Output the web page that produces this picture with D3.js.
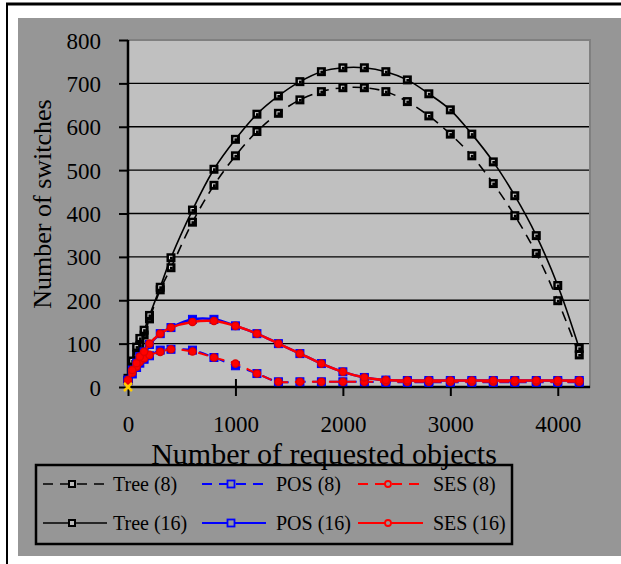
<!DOCTYPE html>
<html><head><meta charset="utf-8">
<script src="https://cdn.jsdelivr.net/npm/d3@7"></script>
<style>body{margin:0;background:#fff}svg{display:block}svg text{font-family:"Liberation Serif","Times New Roman",serif !important;fill:#000}</style>
</head><body>
<svg id="c" width="621" height="564"></svg>
<script>
const xValues = [0, 40, 80, 110, 150, 200, 300, 400, 600, 800, 1000, 1200, 1400, 1600, 1800, 2000, 2200, 2400, 2600, 2800, 3000, 3200, 3400, 3600, 3800, 4000, 4200];
const tree8  = [15, 50, 75, 95, 120, 157, 224, 275, 380, 465, 533, 589, 631, 662, 681, 690, 690, 681, 658, 625, 583, 533, 469, 395, 308, 199, 74];
const tree16 = [20, 60, 92, 112, 131, 165, 230, 298, 408, 502, 571, 629, 671, 704, 727, 736, 736, 727, 708, 676, 639, 583, 519, 441, 349, 234, 89];
const pos8   = [14, 30, 45, 55, 64, 72, 85, 87, 85, 68, 49, 31, 12, 12, 12, 12, 12, 11, 11, 11, 11, 11, 11, 11, 11, 11, 11];
const pos16  = [16, 39, 55, 70, 81, 98, 123, 137, 156, 156, 141, 123, 100, 77, 54, 35, 22, 16, 15, 15, 15, 15, 15, 15, 15, 15, 15];
const ses8   = [12, 33, 47, 58, 66, 74, 81, 87, 82, 68, 54, 31, 12, 12, 12, 12, 12, 12, 12, 12, 12, 12, 12, 12, 12, 12, 12];
const ses16  = [16, 39, 55, 70, 81, 100, 123, 137, 150, 152, 141, 123, 100, 77, 54, 35, 22, 16, 15, 15, 15, 15, 15, 15, 15, 15, 15];
const originPoint = [[0, 0]];
const xTicks = [0, 1000, 2000, 3000, 4000];
const yTicks = [0, 100, 200, 300, 400, 500, 600, 700, 800];
const gridValues = [100, 200, 300, 400, 500, 600, 700];
const seriesNames = ["Tree (8)", "POS (8)", "SES (8)", "Tree (16)", "POS (16)", "SES (16)"];

const FONT = '"Liberation Serif", "Times New Roman", serif';
const svg = d3.select("#c");
// frame
svg.append("rect").attr("x",18).attr("y",18).attr("width",603).attr("height",538).attr("fill","#969696");
svg.append("line").attr("x1",6).attr("x2",621).attr("y1",4).attr("y2",4).attr("stroke","#000").attr("stroke-width",3);
svg.append("line").attr("x1",7).attr("x2",7).attr("y1",3).attr("y2",564).attr("stroke","#000").attr("stroke-width",2);

const x = d3.scaleLinear().domain([0, 4300]).range([128, 590]);
const y = d3.scaleLinear().domain([0, 800]).range([387, 40]);

svg.append("rect").attr("x",x(0)).attr("y",y(800)).attr("width",x(4300)-x(0)).attr("height",y(0)-y(800))
  .attr("fill","#C0C0C0").attr("stroke","#808080").attr("stroke-width",2);

svg.append("g").selectAll("line").data(gridValues).join("line")
  .attr("x1",x(0)).attr("x2",x(4300)-1).attr("y1",d=>y(d)).attr("y2",d=>y(d)).attr("stroke","#000").attr("stroke-width",1.3);

// axes
const yAxis = svg.append("g").attr("transform",`translate(${x(0)},0)`)
  .call(d3.axisLeft(y).tickValues(yTicks).tickSize(9).tickPadding(18).tickFormat(d3.format("d")));
yAxis.attr("font-family",FONT);
yAxis.select(".domain").attr("stroke-width",2.5).attr("d",`M0,${y(800)}V${y(0)}`);
yAxis.selectAll(".tick line").attr("stroke-width",2);
yAxis.selectAll("text").attr("font-size",23).style("font-family",FONT).attr("dy","0.35em");

const xAxis = svg.append("g").attr("transform",`translate(0,${y(0)})`)
  .call(d3.axisBottom(x).tickValues(xTicks).tickSize(9).tickPadding(20).tickFormat(d3.format("d")));
xAxis.attr("font-family",FONT);
xAxis.select(".domain").attr("stroke-width",2.5).attr("d",`M${x(0)},0H${x(4300)}`);
xAxis.selectAll(".tick line").attr("stroke-width",2).attr("y1",-8);
xAxis.selectAll("text").attr("font-size",23).style("font-family",FONT);

// titles
svg.append("text").attr("x",324).attr("y",464).attr("text-anchor","middle").attr("font-size",30).style("font-family",FONT).text("Number of requested objects");
svg.append("text").attr("transform","translate(51,204) rotate(-90)").attr("text-anchor","middle").attr("font-size",26).style("font-family",FONT).text("Number of switches");

const series = [
  {name: seriesNames[0], vals: tree8,  color:"#000", dash:"10,7", width:1.6, marker:"tree"},
  {name: seriesNames[3], vals: tree16, color:"#000", dash:null,   width:1.6, marker:"tree"},
  {name: seriesNames[1], vals: pos8,   color:"#0000FF", dash:"10,7", width:2, marker:"pos"},
  {name: seriesNames[4], vals: pos16,  color:"#0000FF", dash:null,   width:2.5, marker:"pos"},
  {name: seriesNames[2], vals: ses8,   color:"#FF0000", dash:"10,7", width:2, marker:"ses"},
  {name: seriesNames[5], vals: ses16,  color:"#FF0000", dash:null,   width:2.5, marker:"ses"}
];

function drawMarker(g, kind){
  if(kind==="tree"){
    g.append("rect").attr("x",-4.5).attr("y",-4.5).attr("width",9).attr("height",9).attr("fill","#000");
    g.append("rect").attr("x",-2).attr("y",-2).attr("width",3.5).attr("height",3.5).attr("fill","#dcdcdc");
    g.append("rect").attr("x",-1).attr("y",-1).attr("width",2.8).attr("height",2.8).attr("fill","#000");
  } else if(kind==="pos"){
    g.append("rect").attr("x",-4).attr("y",-4).attr("width",8).attr("height",8).attr("fill","#0000FF").attr("stroke","#0000FF").attr("stroke-width",1);
  } else {
    g.append("circle").attr("r",3.6).attr("fill","#FF0000").attr("stroke","#E00000").attr("stroke-width",1.4);
  }
}

const line = d3.line().x(d=>x(d[0])).y(d=>y(d[1])).curve(d3.curveCatmullRom.alpha(0.5));
const plotG = svg.append("g");
series.forEach(s=>{
  const pts = xValues.map((xv,i)=>[xv, s.vals[i]]);
  const g = plotG.append("g");
  g.append("path").attr("d",line(pts)).attr("fill","none").attr("stroke",s.color).attr("stroke-width",s.width)
    .attr("stroke-dasharray",s.dash);
  pts.forEach(p=>{
    const m = g.append("g").attr("transform",`translate(${x(p[0])},${y(p[1])})`);
    drawMarker(m, s.marker);
  });
});
// origin marker
originPoint.forEach(p=>{
  const m = svg.append("g").attr("transform",`translate(${x(p[0])},${y(p[1])})`);
  m.append("path").attr("d","M-4,-4L4,4M-4,4L4,-4").attr("stroke","#FFCC00").attr("stroke-width",2.5);
});

// legend
svg.append("rect").attr("x",36).attr("y",465).attr("width",476).attr("height",79).attr("fill","none").attr("stroke","#000").attr("stroke-width",2.5);
const legendCols = [{x1:43,x2:107,mx:72,tx:113},{x1:202,x2:266,mx:231,tx:276},{x1:358,x2:423,mx:388,tx:433}];
const legendRows = [484, 523];
const legendOrder = [series[0], series[2], series[4], series[1], series[3], series[5]];
legendOrder.forEach((s,i)=>{
  const c = legendCols[i%3], ry = legendRows[Math.floor(i/3)];
  const g = svg.append("g");
  g.append("line").attr("x1",c.x1).attr("x2",c.x2).attr("y1",ry).attr("y2",ry).attr("stroke",s.color)
    .attr("stroke-width",s.marker==="tree"?1.6:2.2).attr("stroke-dasharray",s.dash);
  const m = g.append("g").attr("transform",`translate(${c.mx},${ry})`);
  if(s.marker==="tree"){
    m.append("rect").attr("x",-4).attr("y",-4).attr("width",8).attr("height",8).attr("fill","#000");
    m.append("rect").attr("x",-2).attr("y",-2).attr("width",4).attr("height",4).attr("fill","#bbb");
  } else if(s.marker==="pos"){
    m.append("rect").attr("x",-3.5).attr("y",-3.5).attr("width",7).attr("height",7).attr("fill","#969696").attr("stroke","#0000FF").attr("stroke-width",1.8);
  } else {
    m.append("circle").attr("r",3).attr("fill","#969696").attr("stroke","#FF0000").attr("stroke-width",1.8);
  }
  g.append("text").attr("x",c.tx).attr("y",ry+7).attr("font-size",20).style("font-family",FONT).text(s.name);
});
</script>
</body></html>
